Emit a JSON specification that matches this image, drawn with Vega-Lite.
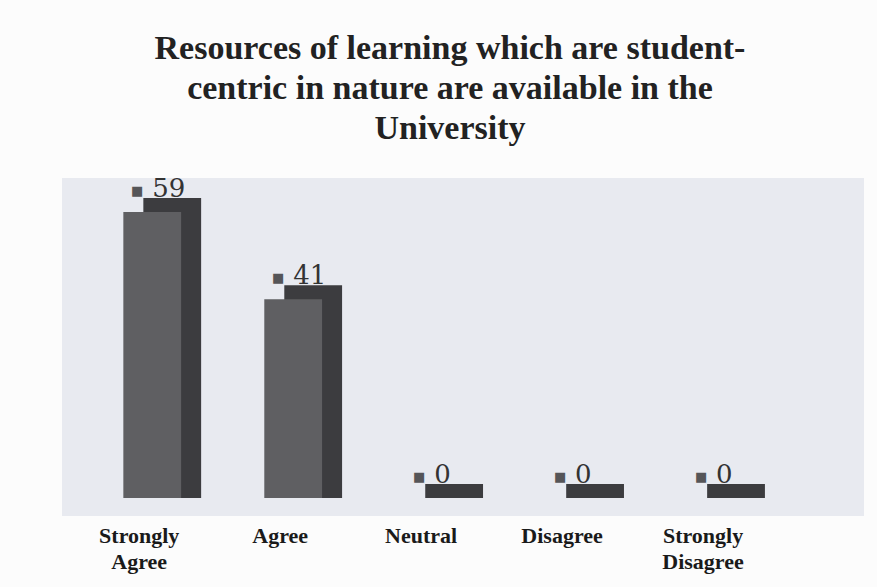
{
  "$schema": "https://vega.github.io/schema/vega-lite/v6.json",
  "width": 802,
  "height": 338,
  "autosize": {"type": "none"},
  "padding": {"left": 62, "top": 178, "right": 13, "bottom": 71},
  "background": "#fcfcfc",
  "title": {
    "text": ["Resources of learning which are student-", "centric in nature are available in the", "University"],
    "font": "Liberation Serif",
    "fontSize": 34,
    "fontWeight": "bold",
    "color": "#222222",
    "lineHeight": 40,
    "anchor": "middle",
    "dx": -13,
    "offset": 30
  },
  "config": {
    "view": {"fill": "#e8eaf0", "stroke": null}
  },
  "data": {
    "values": [
      {"response": "Strongly Agree", "value": 59},
      {"response": "Agree", "value": 41},
      {"response": "Neutral", "value": 0},
      {"response": "Disagree", "value": 0},
      {"response": "Strongly Disagree", "value": 0}
    ]
  },
  "encoding": {
    "x": {
      "field": "response",
      "type": "nominal",
      "sort": null,
      "scale": {"paddingInner": 0.59, "paddingOuter": 0.64, "align": 0.34},
      "axis": {
        "title": null,
        "domain": false,
        "ticks": false,
        "labelAngle": 0,
        "labelFont": "Liberation Serif",
        "labelFontWeight": "bold",
        "labelFontSize": 22,
        "labelColor": "#1a1a1a",
        "labelPadding": 9,
        "labelOffset": -13,
        "labelLineHeight": 26,
        "labelExpr": "split(datum.label, ' ')"
      }
    }
  },
  "layer": [
    {
      "mark": {"type": "rect", "color": "#3c3c3f", "xOffset": 20, "x2Offset": 20, "yOffset": -14, "y2Offset": 0},
      "encoding": {
        "y": {"field": "value", "type": "quantitative", "scale": {"domain": [-3.7, 66], "nice": false, "zero": false}, "axis": null},
        "y2": {"datum": 0}
      }
    },
    {
      "mark": {"type": "bar", "color": "#5f5f62"},
      "encoding": {
        "y": {"field": "value", "type": "quantitative"}
      }
    },
    {
      "mark": {"type": "text", "text": "■", "font": "DejaVu Sans", "fontSize": 13, "color": "#555558", "align": "center", "baseline": "alphabetic", "dx": -15, "dy": -17},
      "encoding": {
        "y": {"field": "value", "type": "quantitative"}
      }
    },
    {
      "mark": {"type": "text", "font": "DejaVu Serif", "fontSize": 26, "color": "#333333", "align": "left", "baseline": "alphabetic", "dx": 0, "dy": -15},
      "encoding": {
        "y": {"field": "value", "type": "quantitative"},
        "text": {"field": "value", "type": "quantitative"}
      }
    }
  ]
}
